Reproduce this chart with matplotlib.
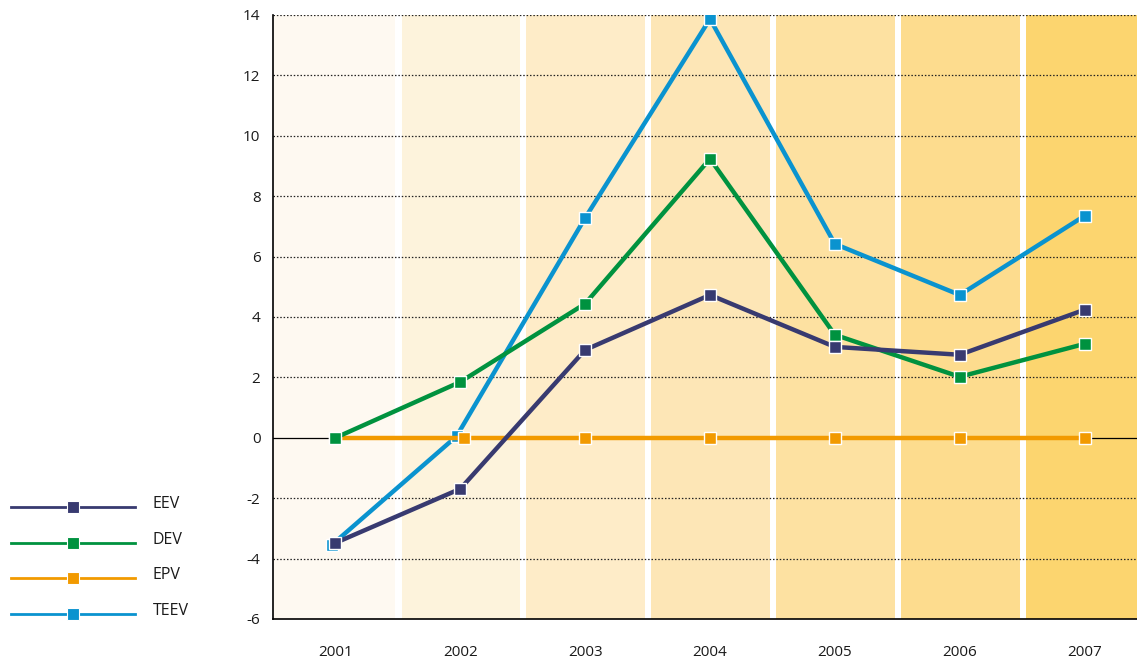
import numpy as np
import matplotlib.pyplot as plt
from matplotlib.lines import Line2D

plt.rcParams['font.family'] = ['Open Sans', 'DejaVu Sans']

years = ['2001', '2002', '2003', '2004', '2005', '2006', '2007']
eev = [-3.48, -1.69, 2.91, 4.73, 3.01, 2.75, 4.24]
dev = [0.0, 1.85, 4.44, 9.24, 3.41, 2.02, 3.11]
epv = [0.0, 0.0, 0.0, 0.0, 0.0, 0.0, 0.0]
teev = [-3.55, 0.05, 7.28, 13.87, 6.42, 4.73, 7.35]

band_colors = ['#fef9f1', '#fdf3dc', '#feecc8', '#fde6b6', '#fde1a1', '#fddc8e', '#fcd56f']

fig = plt.figure(figsize=(11.37, 6.61), dpi=100)
ax = fig.add_axes([273/1137, 42/661, (1137-273)/1137, 604/661])

x = np.arange(len(years))

# shaded year columns with white gaps between them
for i, c in enumerate(band_colors):
    left = -0.5 if i == 0 else i - 0.47
    ax.axvspan(left, i + 0.48, color=c, lw=0, zorder=0)

for v in range(-4, 15, 2):
    if v == 0:
        ax.axhline(0, color='black', lw=0.9, zorder=1)
    else:
        ax.axhline(v, color='#222222', lw=0.9, ls=(0, (1.2, 1.5)), zorder=1)

series = [
    ('TEEV', teev, '#0a93cf', 2),
    ('EPV', epv, '#f29a00', 3),
    ('DEV', dev, '#00923f', 4),
    ('EEV', eev, '#383a70', 5),
]
xs = {'TEEV': x - np.array([0.03, 0.03, 0, 0, 0, 0, 0]), 'EPV': x + np.array([0, 0.03, 0, 0, 0, 0, 0])}
for name, vals, col, z in series:
    ax.plot(xs.get(name, x), vals, color=col, lw=3.2, marker='s', ms=9,
            mec='white', mew=1.0, zorder=z, solid_joinstyle='miter')

ax.set_xlim(-0.5, 6.42)
ax.set_ylim(-6, 14)
ax.set_yticks(range(-6, 15, 2))
ax.set_yticklabels([str(v) for v in range(-6, 15, 2)])
ax.set_xticks(x)
ax.set_xticklabels(years)
ax.tick_params(axis='both', length=0, labelsize=11, colors='#1a1a1a')
ax.tick_params(axis='x', pad=19)
ax.tick_params(axis='y', pad=9)
for s in ['top', 'right']:
    ax.spines[s].set_visible(False)
for s in ['left', 'bottom']:
    ax.spines[s].set_linewidth(1.2)
    ax.spines[s].set_zorder(6)

# legend drawn at the lower left
leg_y = [507, 543, 578, 614]
for (name, col), y in zip([('EEV', '#383a70'), ('DEV', '#00923f'), ('EPV', '#f29a00'), ('TEEV', '#0a93cf')], leg_y):
    fy = 1 - y / 661
    fig.add_artist(Line2D([11/1137, 135/1137], [fy, fy], color=col, lw=2.0))
    fig.add_artist(Line2D([73/1137], [fy], color=col, marker='s', ms=8, mec='white', mew=0.8))
    fig.text(153/1137, fy + 0.004, name, fontsize=11.5, va='center', ha='left', color='#1a1a1a')

fig.savefig('out.png', dpi=100)
